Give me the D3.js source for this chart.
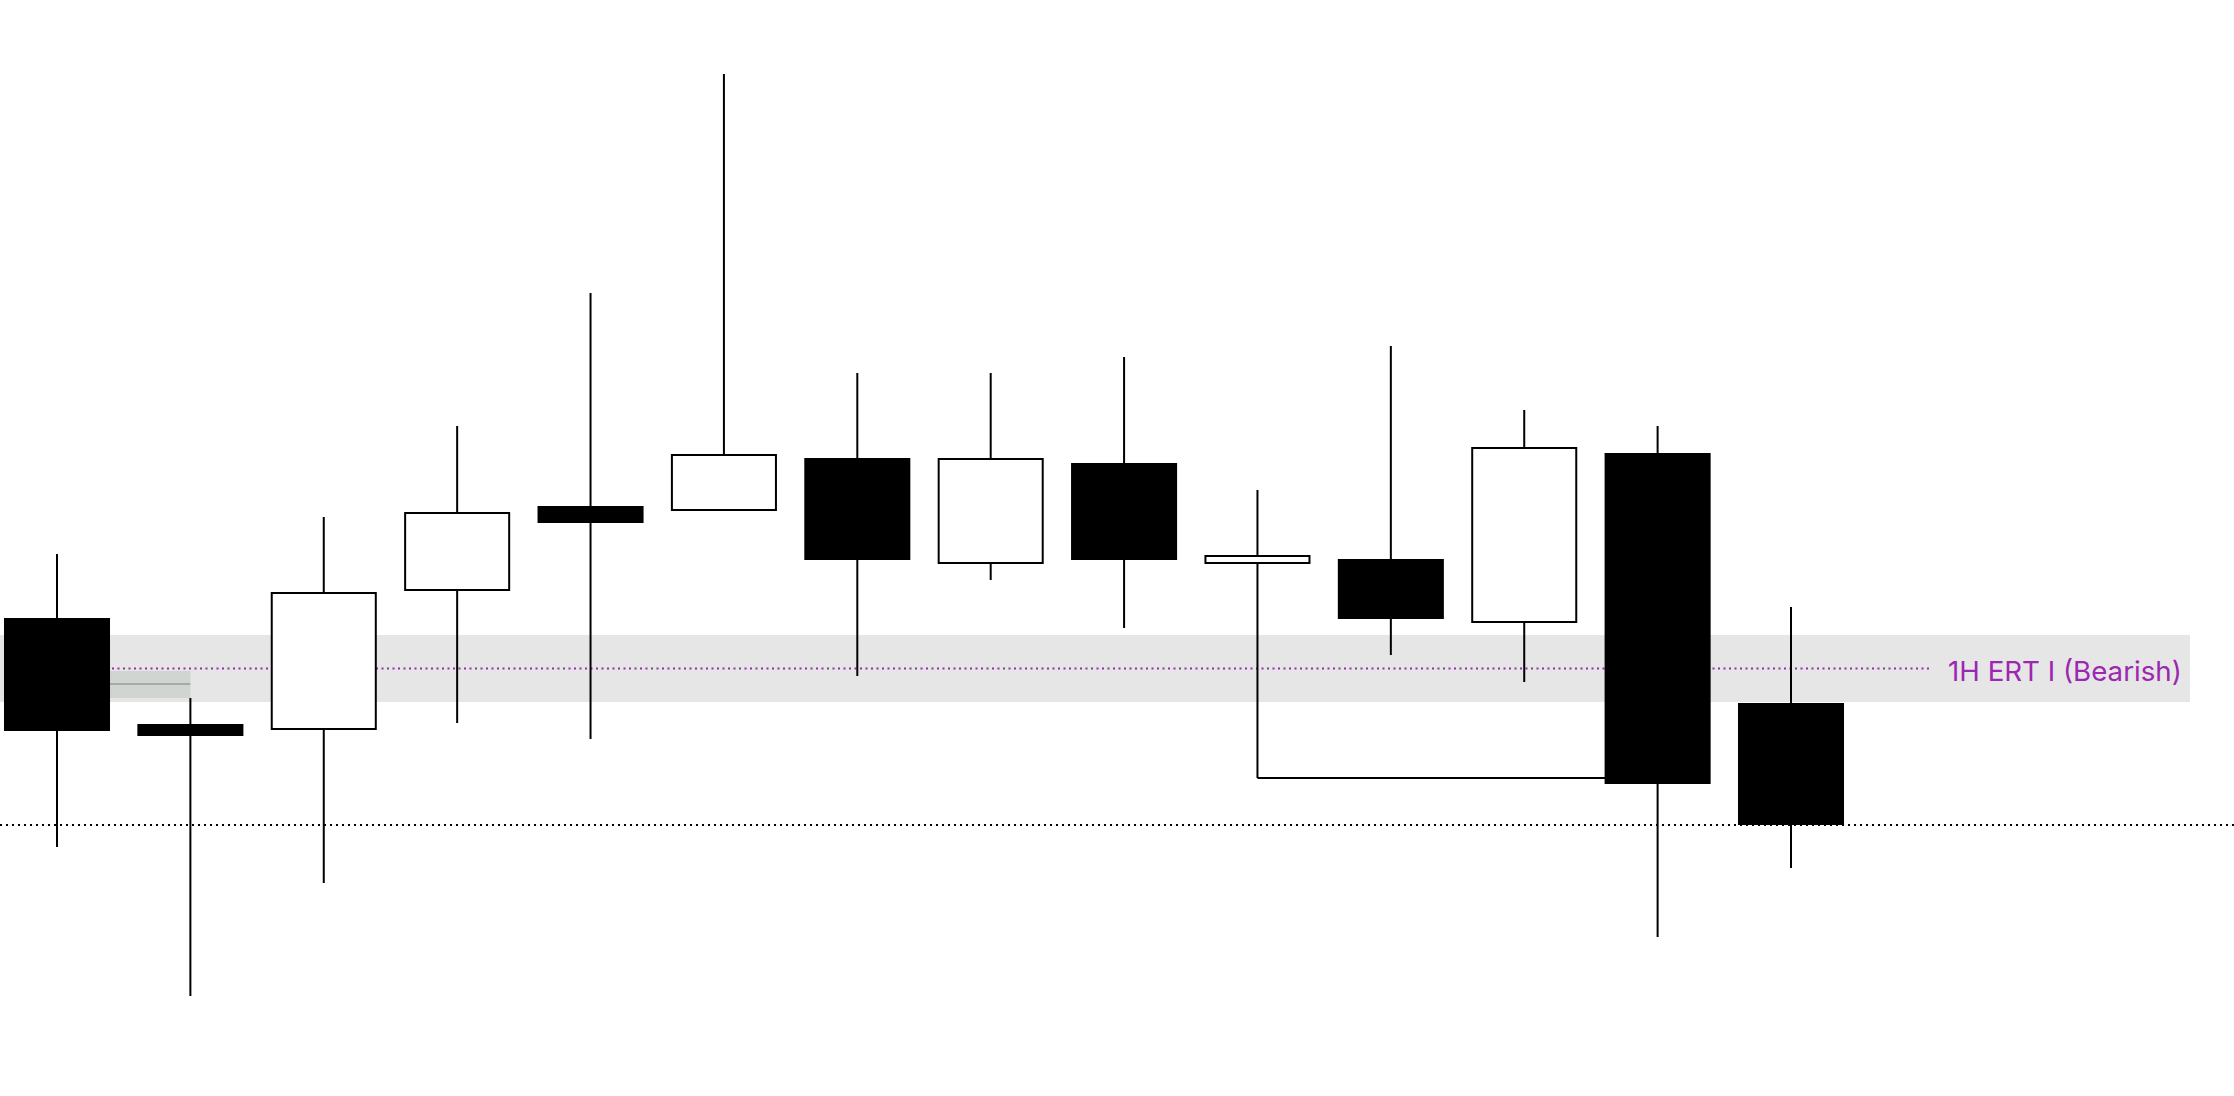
<!DOCTYPE html>
<html>
<head>
<meta charset="utf-8">
<script src="https://cdn.jsdelivr.net/npm/d3@7"></script>
<style>
    html, body { margin: 0; padding: 0; background: #ffffff; }
    svg { display: block; }
</style>
</head>
<body>
<svg id="chart"></svg>
<script>

// candle data (arbitrary price units)
const opens  = [47.8, 37.2, 36.6, 50.5, 59.0, 58.5, 63.8, 53.2, 63.3, 53.2, 53.7, 47.3, 64.3, 39.3];
const highs  = [54.2, 39.8, 57.9, 67.0, 80.3, 102.2, 72.3, 72.3, 73.9, 60.6, 75.0, 68.6, 67.0, 48.9];
const lows   = [24.9, 10.0, 21.3, 37.3, 35.7, 58.5, 42.0, 51.6, 46.8, 31.8, 44.1, 41.4, 15.9, 22.8];
const closes = [36.5, 36.0, 50.4, 58.4, 57.3, 64.2, 53.6, 63.8, 53.6, 54.1, 47.7, 64.9, 31.2, 27.1];

// ERT zone
const zoneTop = 46.1;
const zoneBottom = 39.4;
const zoneLabel = "1H ERT I (Bearish)";

// small gap box between candle 0 and candle 1
const gapTop = 42.5;
const gapBottom = 39.8;
const gapMid = 41.2;

const width = 2234;
const height = 1096;

const svg = d3.select("#chart")
    .attr("width", width)
    .attr("height", height);

const candles = opens.map((o, i) => ({ i: i, open: o, high: highs[i], low: lows[i], close: closes[i] }));

// scales
const x = d3.scaleLinear()
    .domain([0, 13])
    .range([57, 1791]);

const y = d3.scaleLinear()
    .domain([0, 109.6])
    .range([height, 0]);

const step = x(1) - x(0);
const bodyW = step * 0.795;

//zone band
svg.append("rect")
    .attr("x", 0)
    .attr("y", y(zoneTop))
    .attr("width", 2190)
    .attr("height", y(zoneBottom) - y(zoneTop))
    .attr("fill", "#e6e6e6");

// zone midline (dotted purple)
const zoneMid = (zoneTop + zoneBottom) / 2;
svg.append("line")
    .attr("x1", x(0))
    .attr("x2", 1932)
    .attr("y1", y(zoneMid))
    .attr("y2", y(zoneMid))
    .attr("stroke", "#9c27b0")
    .attr("stroke-width", 2)
    .attr("stroke-dasharray", "2,3.5");

svg.append("text")
    .attr("x", 1948)
    .attr("y", y(zoneMid) + 12)
    .attr("font-family", "Inter, 'Noto Sans', sans-serif")
    .attr("font-size", "27.7px")
    .attr("fill", "#9c27b0")
    .text(zoneLabel);

// gap box
svg.append("rect")
    .attr("x", x(0) + bodyW / 2)
    .attr("y", y(gapTop))
    .attr("width", x(1) - x(0) - bodyW / 2)
    .attr("height", y(gapBottom) - y(gapTop))
    .attr("fill", "#d1d5d2");

svg.append("line")
    .attr("x1", x(0) + bodyW / 2)
    .attr("x2", x(1))
    .attr("y1", y(gapMid))
    .attr("y2", y(gapMid))
    .attr("stroke", "#999c99")
    .attr("stroke-width", 1.5);

// last close level (black dotted, full width)
svg.append("line")
    .attr("x1", 0)
    .attr("x2", width)
    .attr("y1", y(closes[13]))
    .attr("y2", y(closes[13]))
    .attr("stroke", "#000")
    .attr("stroke-width", 2)
    .attr("stroke-dasharray", "2,4");

// connector from candle 9 low to candle 12
svg.append("line")
    .attr("x1", x(9))
    .attr("x2", x(12))
    .attr("y1", y(lows[9]))
    .attr("y2", y(lows[9]))
    .attr("stroke", "#000")
    .attr("stroke-width", 2);

// candles
const g = svg.selectAll(".candle")
    .data(candles)
    .enter()
    .append("g")
    .attr("class", "candle");

//wick
g.append("line")
    .attr("x1", d => x(d.i))
    .attr("x2", d => x(d.i))
    .attr("y1", d => y(d.high))
    .attr("y2", d => y(d.low))
    .attr("stroke", "#000")
    .attr("stroke-width", 2);

//body
g.append("rect")
    .attr("x", d => x(d.i) - bodyW / 2 + (d.close >= d.open ? 1 : 0))
    .attr("y", d => y(Math.max(d.open, d.close)) + (d.close >= d.open ? 1 : 0))
    .attr("width", d => bodyW - (d.close >= d.open ? 2 : 0))
    .attr("height", d => Math.abs(y(d.open) - y(d.close)) - (d.close >= d.open ? 2 : 0))
    .attr("fill", d => d.close >= d.open ? "#fff" : "#000")
    .attr("stroke", d => d.close >= d.open ? "#000" : "none")
    .attr("stroke-width", 2);

</script>
</body>
</html>
